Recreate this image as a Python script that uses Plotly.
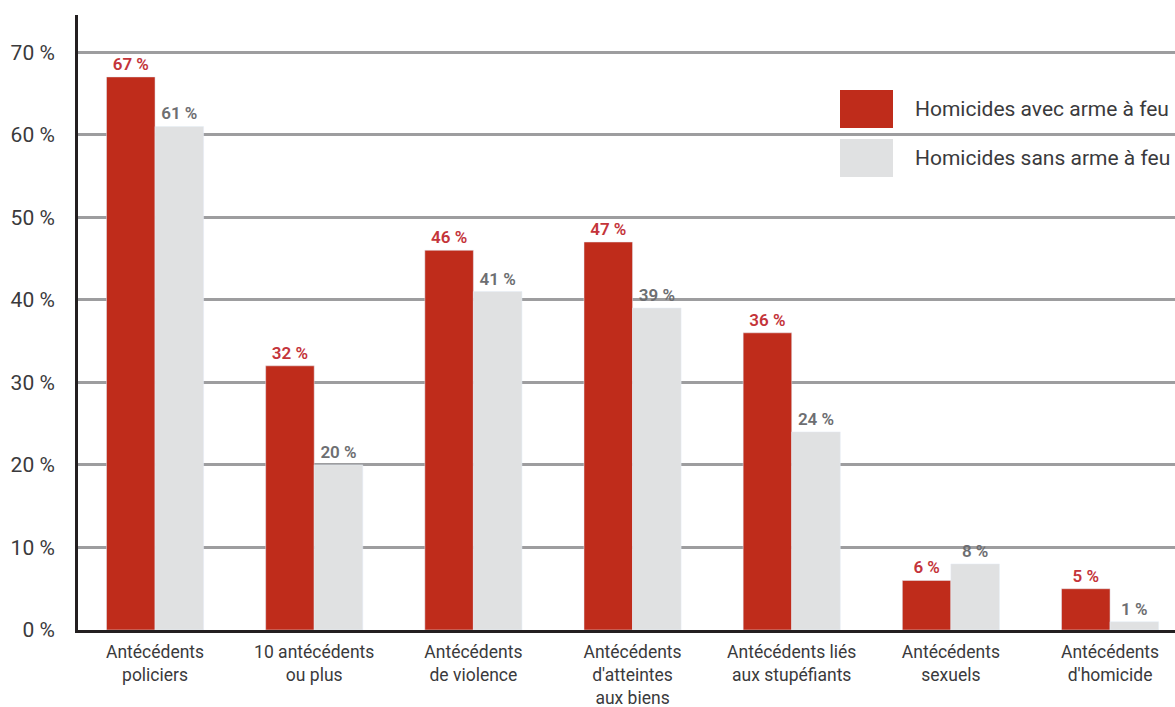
import plotly.graph_objects as go

categories = ["Antécédents<br>policiers", "10 antécédents<br>ou plus", "Antécédents<br>de violence",
              "Antécédents<br>d'atteintes<br>aux biens", "Antécédents liés<br>aux stupéfiants",
              "Antécédents<br>sexuels", "Antécédents<br>d'homicide"]
avec_arme = [67, 32, 46, 47, 36, 6, 5]
sans_arme = [61, 20, 41, 39, 24, 8, 1]
series_names = ["Homicides avec arme à feu", "Homicides sans arme à feu"]
y_ticks = [0, 10, 20, 30, 40, 50, 60, 70]
y_ticktext = [f"{v} %" for v in y_ticks]

RED = "#BF2C1B"
GREY = "#E0E1E2"
FONT = "Roboto"
TXT = "#3A3A3C"

W, H = 1175, 707
L, R, T, B = 78, 0, 15, 77
pw, ph = W - L - R, H - T - B

def px(x):
    return (x - L) / pw

def py(y):
    return (H - B - y) / ph

xs = list(range(len(categories)))

fig = go.Figure()
fig.add_trace(go.Bar(x=xs, y=avec_arme, name=series_names[0], marker_color=RED,
                     text=[f"{v} %" for v in avec_arme], textposition="outside",
                     textfont=dict(family=FONT, size=17, color="#C4343A", weight=600),
                     cliponaxis=False, showlegend=False))
fig.add_trace(go.Bar(x=xs, y=sans_arme, name=series_names[1], marker_color=GREY,
                     text=[f"{v} %" for v in sans_arme], textposition="outside",
                     textfont=dict(family=FONT, size=17, color="#6D6E71", weight=600),
                     cliponaxis=False, showlegend=False))

shapes = [
    dict(type="rect", xref="paper", yref="paper", x0=px(815), x1=1.0, y0=py(200), y1=py(72),
         fillcolor="white", line_width=0, layer="between"),
    dict(type="rect", xref="paper", yref="paper", x0=px(840), x1=px(893), y0=py(128), y1=py(90),
         fillcolor=RED, line_width=0, layer="above"),
    dict(type="rect", xref="paper", yref="paper", x0=px(840), x1=px(893), y0=py(177), y1=py(139),
         fillcolor=GREY, line_width=0, layer="above"),
]
annotations = [
    dict(xref="paper", yref="paper", x=px(913), y=py(109), text=series_names[0], showarrow=False,
         xanchor="left", yanchor="middle", font=dict(family=FONT, size=21, color=TXT)),
    dict(xref="paper", yref="paper", x=px(913), y=py(158), text=series_names[1], showarrow=False,
         xanchor="left", yanchor="middle", font=dict(family=FONT, size=21, color=TXT)),
]

fig.update_layout(
    width=W, height=H, margin=dict(l=L, r=R, t=T, b=B, autoexpand=False),
    paper_bgcolor="white", plot_bgcolor="white",
    barmode="group", bargap=0.39, bargroupgap=0,
    shapes=shapes, annotations=annotations,
    font=dict(family=FONT, color=TXT),
    xaxis=dict(range=[-0.484, 6.408], tickvals=xs, ticktext=categories, showgrid=False,
               showline=True, linecolor="#231F20", linewidth=3, ticks="", ticklabelstandoff=4,
               automargin=False,
               tickfont=dict(family=FONT, size=17.5, color=TXT), zeroline=False),
    yaxis=dict(range=[0, 74.5], tickvals=y_ticks, ticktext=y_ticktext, automargin=False,
               showgrid=True, gridcolor="#9D9D9F", gridwidth=2.5, showline=True,
               linecolor="#231F20", linewidth=3, ticks="", zeroline=False, ticklabelstandoff=16,
               tickfont=dict(family=FONT, size=21, color=TXT)),
)

fig.write_html("out.html")
